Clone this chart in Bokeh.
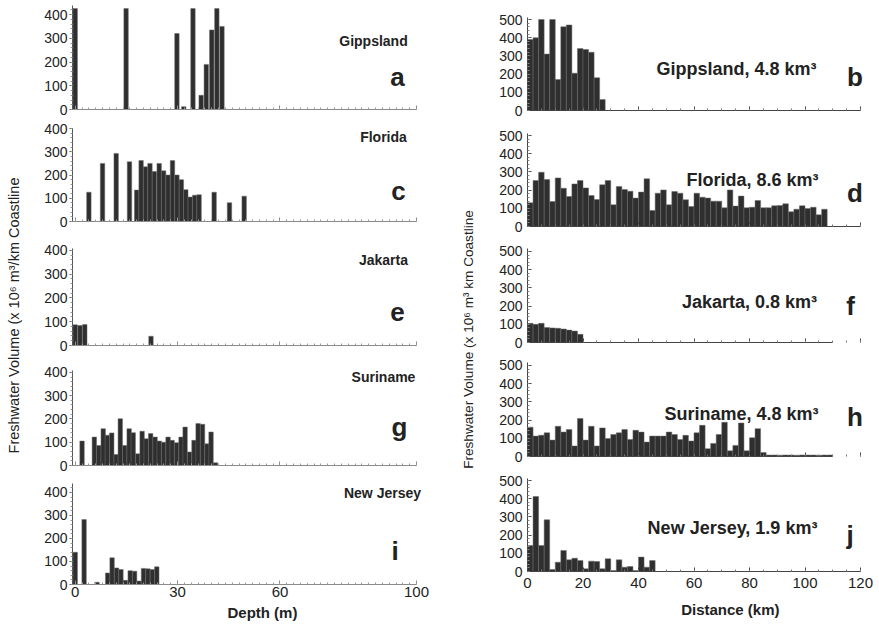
import math
from bokeh.plotting import figure
from bokeh.layouts import row, column
from bokeh.models import Range1d, FixedTicker, Label, ColumnDataSource
from bokeh.embed import file_html
from bokeh.resources import INLINE

# ---------------------------------------------------------------------------
# Data: freshwater volume per km of coastline (x 10^6 m^3)
# ---------------------------------------------------------------------------
sites = ["Gippsland", "Florida", "Jakarta", "Suriname", "New Jersey"]
panel_letters_depth = ["a", "c", "e", "g", "i"]
panel_letters_dist = ["b", "d", "f", "h", "j"]
total_km3 = ["4.8", "8.6", "0.8", "4.8", "1.9"]

# By water depth (bar centre depth, m)
gippsland_depth = [0.0, 14.9, 29.8, 31.8, 34.5, 36.9, 38.4, 40.0, 41.5, 43.0]
gippsland_vol_d = [425, 425, 320, 12, 425, 60, 190, 335, 425, 350]

florida_depth = [4.0, 8.0, 12.0, 15.9, 18.0, 19.3, 20.6, 21.9, 23.2, 24.6, 25.9,
                 27.2, 28.5, 29.8, 31.1, 32.4, 33.7, 35.0, 36.3, 40.7, 45.2, 49.5]
florida_vol_d = [126, 250, 293, 257, 135, 262, 235, 250, 215, 250, 218,
                 200, 262, 200, 180, 137, 105, 113, 115, 126, 81, 109]

jakarta_depth = [0.0, 1.4, 2.8, 22.2]
jakarta_vol_d = [87, 84, 88, 39]

suriname_depth = [2.0, 5.6, 6.9, 8.2, 9.4, 10.7, 12.0, 13.2, 14.5, 15.8, 17.0,
                  18.3, 19.6, 20.8, 22.1, 23.4, 24.6, 25.9, 27.2, 28.4, 29.7,
                  31.0, 32.2, 33.5, 34.8, 36.0, 37.3, 38.6, 39.8, 41.1]
suriname_vol_d = [105, 122, 86, 158, 130, 140, 47, 201, 86, 158, 141,
                  50, 147, 115, 137, 122, 105, 100, 122, 108, 98,
                  122, 165, 58, 108, 180, 177, 93, 144, 12]

newjersey_depth = [0.0, 2.6, 6.4, 9.5, 10.8, 12.1, 13.4, 14.7, 16.1, 17.4,
                   18.7, 20.0, 21.3, 22.6, 23.9]
newjersey_vol_d = [140, 282, 10, 50, 116, 72, 65, 18, 60, 58,
                   15, 70, 68, 65, 77]

# By distance offshore (consecutive 2 km bins starting at the coast)
dist_bin_km = 2
gippsland_vol_x = [390, 400, 500, 310, 500, 170, 460, 470, 205, 340, 335, 320, 180, 60]
florida_vol_x = [130, 253, 298, 258, 137, 267, 210, 165, 234, 253, 212, 170, 148, 229,
                 253, 119, 220, 203, 194, 156, 189, 262, 88, 183, 201, 119, 192, 183,
                 147, 110, 183, 161, 156, 139, 139, 103, 201, 112, 167, 103, 106, 143,
                 103, 103, 114, 115, 125, 81, 95, 114, 99, 106, 64, 95]
jakarta_vol_x = [105, 100, 105, 82, 80, 78, 74, 68, 63, 45]
suriname_vol_x = [161, 112, 117, 130, 90, 166, 134, 148, 58, 209, 90, 166, 58, 157,
                  99, 121, 130, 148, 94, 144, 134, 79, 112, 112, 112, 134, 121, 94,
                  116, 85, 130, 171, 43, 72, 121, 188, 31, 61, 184, 31, 103, 153, 22,
                  8, 8, 7, 8, 8, 7, 8, 8, 8, 7, 8, 8]
newjersey_vol_x = [143, 412, 143, 284, 11, 51, 115, 64, 73, 60, 15, 57, 55, 15,
                   70, 5, 64, 24, 27, 5, 79, 24, 60]

depth_series = [
    (gippsland_depth, gippsland_vol_d),
    (florida_depth, florida_vol_d),
    (jakarta_depth, jakarta_vol_d),
    (suriname_depth, suriname_vol_d),
    (newjersey_depth, newjersey_vol_d),
]
dist_series = [gippsland_vol_x, florida_vol_x, jakarta_vol_x, suriname_vol_x, newjersey_vol_x]

depth_ticks = [0, 30, 60, 100]
dist_ticks = [0, 20, 40, 60, 80, 100, 120]

# ---------------------------------------------------------------------------
# Layout (page pixels) and styling
# ---------------------------------------------------------------------------
W, H = 879, 628
FONT = "Liberation Sans"
INK = "#222222"
BAR_FILL = "#2f2f2f"
BAR_EDGE = "#6b6b6b"
BASELINE_FIX = 0.42   # lift applied to alphabetic-baseline labels (fraction of font size)

LEFT_X0, LEFT_W = 28, 412                 # left column canvas
LEFT_FRAME_X = (72, 436)                  # drawing area; depth 100 m sits at x=416
LEFT_XR = (-0.8, 100 + 20 * 100.8 / 344)
LEFT_AXIS_BOUNDS = (-0.8, 100)
LEFT_SLICES = [(0, 121), (121, 235), (235, 357), (357, 476), (476, 603)]
LEFT_FRAMES = [(5, 109), (128, 221), (248, 345), (370, 465), (483, 584)]
LEFT_YMAX = [438, 400, 408, 408, 439]
LEFT_STRIP = (603, 628)

RIGHT_X0, RIGHT_W = 485, 394              # right column canvas
RIGHT_FRAME_X = (527, 876)                # distance 120 km sits at x=860
RIGHT_XR = (0, 120 + 16 * 120 / 333)
RIGHT_AXIS_END = [120, 120, 110, 110, 120]
RIGHT_SLICES = [(0, 122), (122, 237), (237, 352), (352, 467), (467, 594)]
RIGHT_FRAMES = [(17, 110), (133, 226), (248, 342), (362, 456), (478, 571)]
RIGHT_YMAX = [511, 511, 516, 516, 511]
RIGHT_STRIP = (594, 628)

# page positions of the annotations: (x centre, baseline y)
LEFT_NAME_POS = [(373, 46), (383, 142.7), (383, 265.7), (383, 382.3), (382, 498.3)]
LEFT_LETTER_POS = [(397, 87), (398, 201.7), (397, 322), (399, 437.7), (394.7, 561.7)]
RIGHT_NAME_POS = [(736, 76), (752, 186.7), (749, 309), (741, 421), (732, 535)]
RIGHT_LETTER_POS = [(854.5, 87.3), (854.5, 203.3), (850, 316.7), (854.5, 427.7), (849.7, 545)]


def to_data(frame_x, frame_y, xr, yr, px, py):
    fl, fr = frame_x
    ft, fb = frame_y
    x = xr[0] + (px - fl) * (xr[1] - xr[0]) / (fr - fl)
    y = yr[0] + (fb - py) * (yr[1] - yr[0]) / (fb - ft)
    return x, y


def add_text(p, frame_x, frame_y, xr, yr, pos, text, size_px, bold=True):
    px, py = pos
    x, y = to_data(frame_x, frame_y, xr, yr, px, py - BASELINE_FIX * size_px)
    p.add_layout(Label(x=x, y=y, text=text, text_font=FONT, text_font_size=f"{size_px}px",
                       text_font_style="bold" if bold else "normal", text_color=INK,
                       text_align="center", text_baseline="alphabetic"))


def base_figure(col_x0, col_w, frame_x, slice_, frame_y, xr, yr):
    top, bottom = slice_
    ft, fb = frame_y
    p = figure(width=col_w, height=bottom - top,
               x_range=Range1d(*xr), y_range=Range1d(*yr),
               min_border_left=frame_x[0] - col_x0,
               min_border_right=col_x0 + col_w - frame_x[1],
               min_border_top=ft - top, min_border_bottom=bottom - fb,
               toolbar_location=None, output_backend="svg")
    p.grid.visible = False
    p.outline_line_color = None
    p.background_fill_color = "white"
    p.border_fill_color = "white"
    for ax in (p.xaxis[0], p.yaxis[0]):
        ax.major_label_text_font = FONT
        ax.major_label_text_color = INK
    return p


def hide_tick_labels(ax):
    ax.major_label_text_font_size = "0px"
    ax.major_label_text_color = None
    ax.major_label_standoff = 0


def blank_figure(width, height):
    p = figure(width=width, height=height, x_range=Range1d(0, width), y_range=Range1d(0, height),
               x_axis_type=None, y_axis_type=None, min_border=0,
               toolbar_location=None, output_backend="svg")
    p.grid.visible = False
    p.outline_line_color = None
    return p


# ---------------------------------------------------------------------------
# Left column: volume by depth
# ---------------------------------------------------------------------------
left_figs = []
for i, (depth, vol) in enumerate(depth_series):
    yr = (0, LEFT_YMAX[i])
    p = base_figure(LEFT_X0, LEFT_W, LEFT_FRAME_X, LEFT_SLICES[i], LEFT_FRAMES[i], LEFT_XR, yr)
    src = ColumnDataSource(dict(depth=depth, vol=vol))
    p.vbar(x="depth", top="vol", bottom=0, width=1.3, source=src,
           fill_color=BAR_FILL, line_color=BAR_EDGE, line_width=0.5)

    xa = p.xaxis[0]
    xa.ticker = FixedTicker(ticks=depth_ticks, minor_ticks=list(range(0, 101, 2)))
    xa.bounds = LEFT_AXIS_BOUNDS
    xa.axis_line_color = "#8a8a8a"
    xa.major_tick_line_color = "#8a8a8a"
    xa.minor_tick_line_color = "#9a9a9a"
    xa.major_tick_in, xa.major_tick_out = 4, 0
    xa.minor_tick_in, xa.minor_tick_out = 2, 0

    ya = p.yaxis[0]
    ya.ticker = FixedTicker(ticks=[0, 100, 200, 300, 400], minor_ticks=list(range(0, 441, 20)))
    ya.axis_line_color = "#555555"
    ya.major_tick_line_color = "#555555"
    ya.minor_tick_line_color = "#999999"
    ya.major_tick_in, ya.major_tick_out = 0, 3
    ya.minor_tick_in, ya.minor_tick_out = 0, 2
    ya.major_label_text_font_size = "14px"
    ya.major_label_standoff = 2

    if i == len(depth_series) - 1:
        xa.major_label_text_font_size = "15px"
        xa.major_label_standoff = 2
    else:
        hide_tick_labels(xa)

    add_text(p, LEFT_FRAME_X, LEFT_FRAMES[i], LEFT_XR, yr, LEFT_NAME_POS[i], sites[i], 14)
    add_text(p, LEFT_FRAME_X, LEFT_FRAMES[i], LEFT_XR, yr, LEFT_LETTER_POS[i],
             panel_letters_depth[i], 26)
    left_figs.append(p)

# axis title strip under the depth panels
depth_strip = blank_figure(LEFT_W, LEFT_STRIP[1] - LEFT_STRIP[0])
add_text(depth_strip, (LEFT_X0, LEFT_X0 + LEFT_W), LEFT_STRIP, (0, LEFT_W),
         (0, LEFT_STRIP[1] - LEFT_STRIP[0]), (243, 618), "Depth (m)", 15)
left_figs.append(depth_strip)

# ---------------------------------------------------------------------------
# Right column: volume by distance offshore
# ---------------------------------------------------------------------------
right_figs = []
for i, vol in enumerate(dist_series):
    yr = (0, RIGHT_YMAX[i])
    p = base_figure(RIGHT_X0, RIGHT_W, RIGHT_FRAME_X, RIGHT_SLICES[i], RIGHT_FRAMES[i], RIGHT_XR, yr)
    centres = [dist_bin_km * (k + 0.5) for k in range(len(vol))]
    src = ColumnDataSource(dict(dist=centres, vol=vol))
    p.vbar(x="dist", top="vol", bottom=0, width=dist_bin_km, source=src,
           fill_color=BAR_FILL, line_color=BAR_EDGE, line_width=0.5)

    xa = p.xaxis[0]
    xa.ticker = FixedTicker(ticks=dist_ticks, minor_ticks=list(range(0, 121, 5)))
    xa.bounds = (0, RIGHT_AXIS_END[i])
    xa.axis_line_color = "#444444"
    xa.major_tick_line_color = "#444444"
    xa.minor_tick_line_color = "#777777"
    xa.major_tick_in, xa.major_tick_out = 4, 0
    xa.minor_tick_in, xa.minor_tick_out = 2, 0

    ya = p.yaxis[0]
    ya.ticker = FixedTicker(ticks=[0, 100, 200, 300, 400, 500], minor_ticks=list(range(0, 501, 20)))
    ya.axis_line_color = "#444444"
    ya.major_tick_line_color = "#444444"
    ya.minor_tick_line_color = "#888888"
    ya.major_tick_in, ya.major_tick_out = 4, 0
    ya.minor_tick_in, ya.minor_tick_out = 2, 0
    ya.major_label_text_font_size = "14px"
    ya.major_label_standoff = 5

    if i == len(dist_series) - 1:
        xa.major_label_text_font_size = "15px"
        xa.major_label_standoff = 6
    else:
        hide_tick_labels(xa)

    add_text(p, RIGHT_FRAME_X, RIGHT_FRAMES[i], RIGHT_XR, yr, RIGHT_NAME_POS[i],
             f"{sites[i]}, {total_km3[i]} km\u00b3", 18)
    add_text(p, RIGHT_FRAME_X, RIGHT_FRAMES[i], RIGHT_XR, yr, RIGHT_LETTER_POS[i],
             panel_letters_dist[i], 26)
    right_figs.append(p)

dist_strip = blank_figure(RIGHT_W, RIGHT_STRIP[1] - RIGHT_STRIP[0])
add_text(dist_strip, (RIGHT_X0, RIGHT_X0 + RIGHT_W), RIGHT_STRIP, (0, RIGHT_W),
         (0, RIGHT_STRIP[1] - RIGHT_STRIP[0]), (714, 615), "Distance (km)", 15)
right_figs.append(dist_strip)


# ---------------------------------------------------------------------------
# Shared y-axis titles
# ---------------------------------------------------------------------------
def title_strip(width, x_centre, y_centre, text, size):
    p = blank_figure(width, H)
    p.add_layout(Label(x=x_centre, y=H - y_centre, text=text, angle=math.pi / 2,
                       text_font=FONT, text_font_size=size, text_color=INK,
                       text_align="center", text_baseline="middle"))
    return p


title_left = title_strip(LEFT_X0, 13, 315, "Freshwater Volume (x 10\u2076 m\u00b3/km Coastline", "14.5px")
title_right = title_strip(RIGHT_X0 - (LEFT_X0 + LEFT_W), 28, 339,
                          "Freshwater Volume (x 10\u2076 m\u00b3 km Coastline", "13.6px")

layout = row(title_left, column(*left_figs, spacing=0), title_right,
             column(*right_figs, spacing=0), spacing=0)

open("out.html", "w").write(file_html(layout, INLINE))
